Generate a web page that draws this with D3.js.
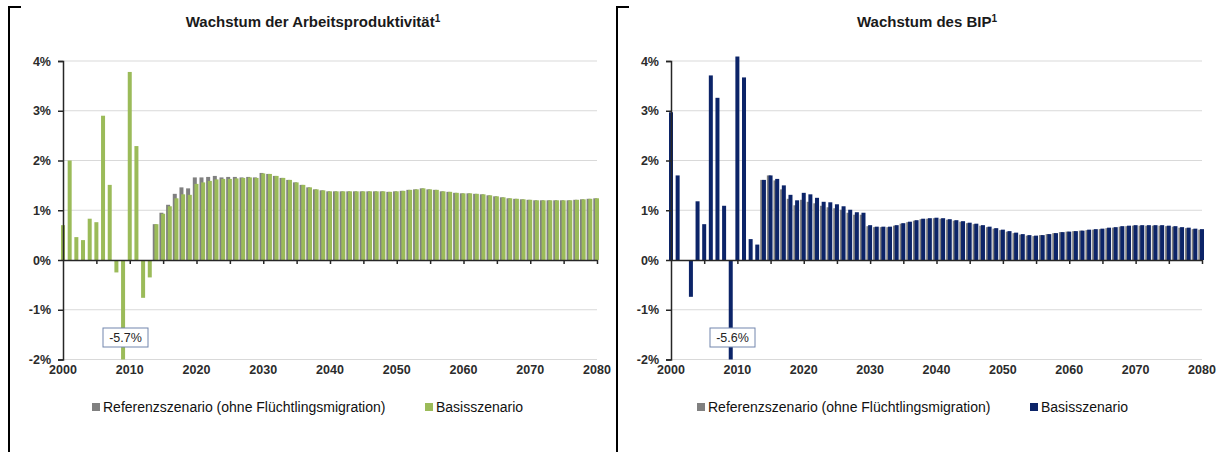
<!DOCTYPE html>
<html>
<head>
<meta charset="utf-8">
<script src="https://cdn.jsdelivr.net/npm/d3@7"></script>
<style>
  body { margin: 0; background: #fff; }
  text { font-family: "Liberation Sans", Arial, sans-serif; }
</style>
</head>
<body>
<svg id="chart" width="1222" height="452"></svg>
<script>
// years on the category axis
const years = d3.range(2000, 2081);
const refStart = 2014; // reference scenario only shown from here on

// Wachstum der Arbeitsproduktivität, Basisszenario (2000..2080)
const prodBasis = [
  0.70, 2.00, 0.46, 0.40, 0.83, 0.76, 2.90, 1.51, -0.25, -5.70,
  3.78, 2.29, -0.76, -0.35, 0.72, 0.93, 1.08, 1.24, 1.32, 1.31,
  1.53, 1.56, 1.59, 1.62, 1.63, 1.63, 1.64, 1.65, 1.66, 1.65,
  1.74, 1.73, 1.69, 1.65, 1.61, 1.56, 1.51, 1.46, 1.42, 1.40,
  1.38, 1.38, 1.38, 1.38, 1.38, 1.38, 1.38, 1.38, 1.38, 1.37,
  1.38, 1.39, 1.41, 1.42, 1.44, 1.42, 1.41, 1.38, 1.37, 1.35,
  1.34, 1.34, 1.33, 1.32, 1.30, 1.28, 1.26, 1.24, 1.23, 1.22,
  1.21, 1.20, 1.20, 1.20, 1.20, 1.20, 1.20, 1.21, 1.22, 1.23,
  1.24
];
// Referenzszenario (2014..2080)
const prodRef = [
  0.72, 0.95, 1.11, 1.33, 1.46, 1.44,
  1.66, 1.66, 1.67, 1.69, 1.66, 1.67, 1.67, 1.66, 1.67, 1.66,
  1.75, 1.73, 1.69, 1.65, 1.61, 1.56, 1.51, 1.46, 1.42, 1.40,
  1.38, 1.38, 1.38, 1.38, 1.38, 1.38, 1.38, 1.38, 1.38, 1.37,
  1.38, 1.39, 1.41, 1.42, 1.44, 1.42, 1.41, 1.38, 1.37, 1.35,
  1.34, 1.34, 1.33, 1.32, 1.30, 1.28, 1.26, 1.24, 1.23, 1.22,
  1.21, 1.20, 1.20, 1.20, 1.20, 1.20, 1.20, 1.21, 1.22, 1.23,
  1.24
];

// Wachstum des BIP, Basisszenario (2000..2080)
const gdpBasis = [
  2.97, 1.70, 0.00, -0.74, 1.18, 0.72, 3.71, 3.26, 1.09, -5.60,
  4.09, 3.67, 0.42, 0.31, 1.61, 1.70, 1.63, 1.50, 1.31, 1.20,
  1.35, 1.32, 1.25, 1.17, 1.16, 1.12, 1.08, 1.01, 0.96, 0.95,
  0.70, 0.67, 0.67, 0.67, 0.70, 0.74, 0.77, 0.80, 0.83, 0.84,
  0.85, 0.84, 0.82, 0.80, 0.78, 0.75, 0.73, 0.70, 0.67, 0.64,
  0.61, 0.58, 0.55, 0.52, 0.50, 0.49, 0.50, 0.52, 0.54, 0.56,
  0.57, 0.58, 0.59, 0.61, 0.62, 0.63, 0.65, 0.66, 0.68, 0.69,
  0.70, 0.70, 0.70, 0.70, 0.70, 0.69, 0.68, 0.66, 0.65, 0.63,
  0.62
];
// Referenzszenario (2014..2080)
const gdpRef = [
  1.61, 1.70, 1.60, 1.42, 1.23, 1.10,
  1.21, 1.17, 1.14, 1.09, 1.06, 1.04, 1.01, 0.95, 0.91, 0.91,
  0.68, 0.66, 0.66, 0.66, 0.69, 0.73, 0.76, 0.79, 0.82, 0.83,
  0.84, 0.83, 0.81, 0.79, 0.77, 0.74, 0.72, 0.69, 0.66, 0.63,
  0.60, 0.57, 0.54, 0.51, 0.49, 0.48, 0.50, 0.52, 0.54, 0.56,
  0.57, 0.58, 0.59, 0.60, 0.61, 0.62, 0.64, 0.65, 0.67, 0.68,
  0.69, 0.69, 0.69, 0.69, 0.69, 0.68, 0.67, 0.65, 0.64, 0.62,
  0.61
];

const yTicks = [-2, -1, 0, 1, 2, 3, 4];
const labelYears = [2000, 2010, 2020, 2030, 2040, 2050, 2060, 2070, 2080];
const legendNames = ["Referenzszenario (ohne Flüchtlingsmigration)", "Basisszenario"];

const svg = d3.select("#chart");

function drawPanel(p, idx) {
  const x = d3.scaleLinear().domain([2000, 2080]).range([p.x0, p.x1]);
  const y = d3.scaleLinear().domain([-2, 4]).range([359.5, 61]);
  const g = svg.append("g");

  // frame bracket
  g.append("path")
    .attr("d", `M${p.frameX},452 V7 H${p.frameX + 12}`)
    .attr("fill", "none").attr("stroke", "#000").attr("stroke-width", 2);

  const t = g.append("text")
    .attr("x", p.titleX).attr("y", 27)
    .attr("text-anchor", "middle")
    .attr("font-size", 15).attr("font-weight", "bold").attr("fill", "#1a1a1a");
  t.append("tspan").text(p.title);
  t.append("tspan").attr("font-size", 10).attr("dy", -5).text("1");

  // gridlines
  g.selectAll(".grid").data(yTicks.filter(d => d !== 0)).enter().append("line")
    .attr("x1", p.x0).attr("x2", p.x1)
    .attr("y1", d => y(d)).attr("y2", d => y(d))
    .attr("stroke", "#d9d9d9").attr("stroke-width", 1);

  const clipId = "clip" + idx;
  g.append("clipPath").attr("id", clipId).append("rect")
    .attr("x", p.x0 - 5).attr("y", 40)
    .attr("width", p.x1 - p.x0 + 10).attr("height", y(-2) - 40);

  const bars = g.append("g").attr("clip-path", `url(#${clipId})`);
  const refData = p.ref.map((v, i) => ({ yr: refStart + i, v }));
  const baseData = p.basis.map((v, i) => ({ yr: years[i], v }));

  bars.selectAll(".ref").data(refData).enter().append("rect")
    .attr("x", d => x(d.yr) - 3.7).attr("width", 4)
    .attr("y", d => y(Math.max(0, d.v)))
    .attr("height", d => Math.abs(y(d.v) - y(0)))
    .attr("fill", "#808080");

  bars.selectAll(".base").data(baseData).enter().append("rect")
    .attr("x", d => x(d.yr) - 2).attr("width", 4)
    .attr("y", d => y(Math.max(0, d.v)))
    .attr("height", d => Math.abs(y(d.v) - y(0)))
    .attr("fill", p.color);

  // y axis
  const yAxis = g.append("g").attr("transform", `translate(${p.x0},0)`)
    .call(d3.axisLeft(y).tickValues(yTicks).tickFormat(d => d + "%").tickSize(5).tickPadding(7));
  yAxis.select(".domain").attr("stroke", "#262626").attr("stroke-width", 1.5);
  yAxis.selectAll(".tick line").attr("stroke", "#262626").attr("stroke-width", 1.5);
  yAxis.selectAll(".tick text")
    .attr("font-family", "Liberation Sans, Arial, sans-serif")
    .attr("font-size", 12.5).attr("font-weight", "bold").attr("fill", "#2b2b2b");

  // x axis on the zero line
  const xAxis = g.append("g").attr("transform", `translate(0,${y(0)})`)
    .call(d3.axisBottom(x).tickValues(d3.range(2005, 2081, 5)).tickSize(4).tickSizeOuter(0).tickFormat(""));
  xAxis.select(".domain").attr("stroke", "#262626").attr("stroke-width", 1.5);
  xAxis.selectAll(".tick line").attr("stroke", "#262626").attr("stroke-width", 1.5);

  g.selectAll(".xl").data(labelYears).enter().append("text")
    .attr("x", d => x(d)).attr("y", 374)
    .attr("text-anchor", "middle")
    .attr("font-size", 12.5).attr("font-weight", "bold").attr("fill", "#2b2b2b")
    .text(d => d);

  // value label for the clipped bar
  const lb = g.append("g").attr("transform", `translate(${p.boxX},328)`);
  lb.append("rect").attr("width", 45).attr("height", 19)
    .attr("fill", "#fff").attr("stroke", "#7286ad").attr("stroke-width", 1);
  lb.append("text").attr("x", 22.5).attr("y", 14)
    .attr("text-anchor", "middle").attr("font-size", 12.5).attr("fill", "#222")
    .text(p.clipLabel);

  // legend
  const leg = g.append("g").attr("transform", `translate(${p.legX},0)`);
  const colors = ["#808080", p.color];
  const offs = [0, 333];
  legendNames.forEach((name, i) => {
    leg.append("rect").attr("x", offs[i]).attr("y", 403).attr("width", 8).attr("height", 8).attr("fill", colors[i]);
    leg.append("text").attr("x", offs[i] + 11).attr("y", 412)
      .attr("font-size", 14).attr("fill", "#111").text(name);
  });
}

const panels = [
  { x0: 63, x1: 597, frameX: 9, titleX: 313, title: "Wachstum der Arbeitsproduktivität",
    color: "#9bbb59", basis: prodBasis, ref: prodRef, clipLabel: "-5.7%", boxX: 103, legX: 92 },
  { x0: 671, x1: 1202, frameX: 617, titleX: 927, title: "Wachstum des BIP",
    color: "#0c2468", basis: gdpBasis, ref: gdpRef, clipLabel: "-5.6%", boxX: 710, legX: 697 }
];
panels.forEach(drawPanel);
</script>
</body>
</html>
